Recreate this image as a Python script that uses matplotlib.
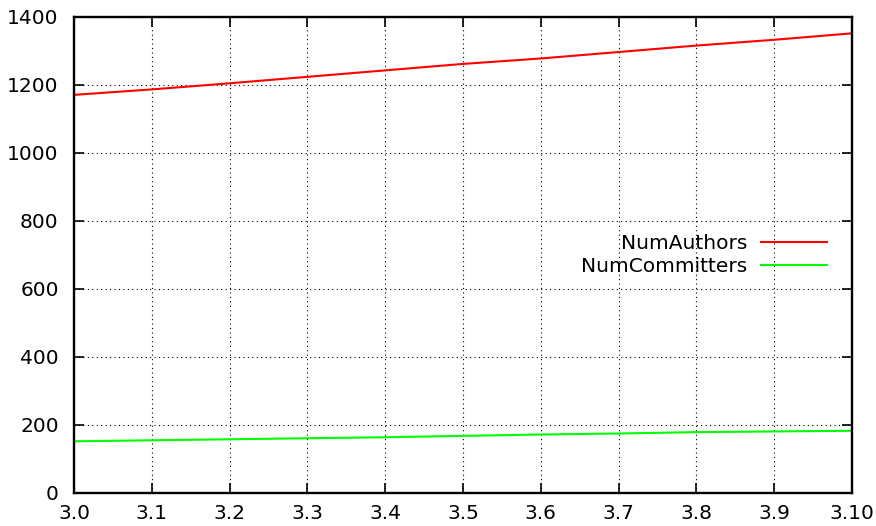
import matplotlib
matplotlib.use('Agg')
import matplotlib.pyplot as plt

versions = ['3.0', '3.1', '3.2', '3.3', '3.4', '3.5', '3.6', '3.7', '3.8', '3.9', '3.10']
num_authors = [1171, 1187, 1205, 1224, 1243, 1262, 1278, 1297, 1316, 1333, 1352]
num_committers = [152, 155, 158, 161, 164, 168, 172, 175, 179, 181, 183]

fig = plt.figure(figsize=(8.76, 5.26), dpi=100)
ax = fig.add_axes([74 / 876, 1 - 493 / 526, 778 / 876, 476 / 526])

x = list(range(len(versions)))
ax.plot(x, num_authors, color='#ff0000', lw=1.5, label='NumAuthors')
ax.plot(x, num_committers, color='#00ff00', lw=1.5, label='NumCommitters')

ax.set_xlim(0, len(versions) - 1)
ax.set_ylim(0, 1400)
ax.set_xticks(x)
ax.set_xticklabels(versions)
ax.set_yticks(range(0, 1401, 200))

ax.grid(True, color='black', linestyle=(0, (1, 3)), linewidth=0.8)
ax.tick_params(direction='in', length=7, width=1.2, top=True, right=True,
               labelsize=14.5)
ax.tick_params(axis='y', pad=11)
ax.tick_params(axis='x', pad=8)
for s in ax.spines.values():
    s.set_linewidth(1.7)

leg = ax.legend(loc='center right', bbox_to_anchor=(0.968, 0.5), frameon=False,
                markerfirst=False, fontsize=14.5, handlelength=3.3,
                labelspacing=0.2, handletextpad=0.65, borderaxespad=0,
                borderpad=0)
for t in leg.get_texts():
    t.set_ha('right')

fig.savefig('out.png', dpi=100)
